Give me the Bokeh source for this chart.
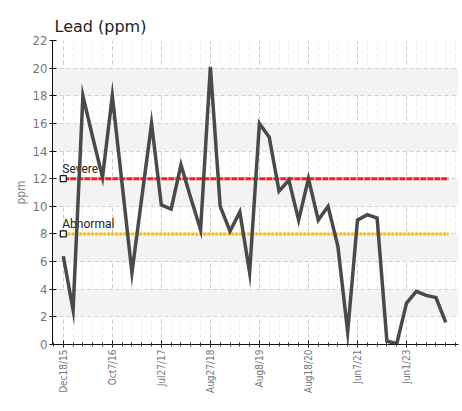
from bokeh.plotting import figure
from bokeh.models import Range1d, FixedTicker, SingleIntervalTicker
from bokeh.core.properties import value
from bokeh.embed import file_html
from bokeh.resources import INLINE
import math

# ---- data ----
tick_labels = ["Dec18/15", "Oct7/16", "Jul27/17", "Aug27/18", "Aug8/19", "Aug18/20", "Jun7/21", "Jun1/23"]
lead_ppm = [6.4, 2.5, 18.0, 15.0, 12.1, 18.0, 11.6, 5.2, 10.6, 16.0,
            10.1, 9.8, 13.0, 10.6, 8.3, 20.1, 10.0, 8.2, 9.6, 5.2,
            16.0, 15.0, 11.1, 11.9, 9.0, 12.0, 9.0, 10.0, 7.1, 0.9,
            9.0, 9.4, 9.15, 0.25, 0.05, 3.0, 3.85, 3.55, 3.4, 1.6]
threshold_names = ["Severe", "Abnormal"]
threshold_values = [12, 8]
threshold_colors = ["#ff1a1a", "#f2c200"]
threshold_dashes = ["6 1", "3 1"]

n = len(lead_ppm)
idx = list(range(n))
label_every = 5

cond_font = "DejaVu Sans Condensed"

p = figure(width=460, height=395, output_backend="svg", toolbar_location=None,
           x_range=Range1d(-1.1, 40.3), y_range=Range1d(0, 22),
           min_border_left=52, min_border_right=2, min_border_top=40, min_border_bottom=50,
           title="Lead (ppm)")
p.outline_line_color = None
p.title.text_font = "DejaVu Sans"
p.title.text_font_size = "16px"
p.title.text_font_style = "normal"
p.title.text_color = "#222222"
p.title.offset = 2

# axes
p.xaxis.ticker = FixedTicker(ticks=idx[::label_every], minor_ticks=list(range(-1, 41)))
p.xaxis.major_label_overrides = {i: lab for i, lab in zip(idx[::label_every], tick_labels)}
p.xaxis.major_label_orientation = math.pi / 2
p.yaxis.ticker = SingleIntervalTicker(interval=2, num_minor_ticks=0)
for ax in (p.xaxis[0], p.yaxis[0]):
    ax.axis_line_color = "#111111"
    ax.major_tick_line_color = "#111111"
    ax.major_tick_in = 4
    ax.major_tick_out = 3
    ax.major_label_text_font = cond_font
    ax.major_label_text_font_size = "10px"
    ax.major_label_text_color = "#777777"
    ax.major_label_standoff = 2
p.yaxis.major_label_text_font_size = "13px"
p.xaxis.minor_tick_in = 2
p.xaxis.minor_tick_out = 2
p.xaxis.minor_tick_line_color = "#333333"
p.yaxis.minor_tick_line_color = None
p.yaxis.axis_label = "ppm"
p.yaxis.axis_label_text_font = cond_font
p.yaxis.axis_label_text_font_size = "12px"
p.yaxis.axis_label_text_font_style = "normal"
p.yaxis.axis_label_text_color = "#888888"
p.yaxis.axis_label_standoff = 2

# grid
p.ygrid.grid_line_color = "#d0d0d0"
p.ygrid.grid_line_dash = "4 3"
p.ygrid.band_fill_color = "#f3f3f3"
p.ygrid.band_fill_alpha = 1.0
p.xgrid.grid_line_color = "#cccccc"
p.xgrid.grid_line_dash = "4 3"
p.xgrid.minor_grid_line_color = "#ececec"
p.xgrid.minor_grid_line_dash = "4 3"

# thresholds
for name, val, col, dash in zip(threshold_names, threshold_values, threshold_colors, threshold_dashes):
    p.line([idx[0], idx[-1] + 0.3], [val, val], line_color=col, line_width=3, line_dash=dash)
    p.scatter([idx[0]], [val], marker="square", size=6, fill_color="white", line_color="#111111", line_width=1.2)
    p.text([idx[0]], [val], text=[name], x_offset=-1, y_offset=-3,
           text_font=value("Roboto"), text_font_size="12px", text_color="#222222",
           text_baseline="bottom", text_align="left")

# series
p.line(idx, lead_ppm, line_color="#4a4a4a", line_width=3.5, line_join="miter")

open("out.html", "w").write(file_html(p, INLINE))
